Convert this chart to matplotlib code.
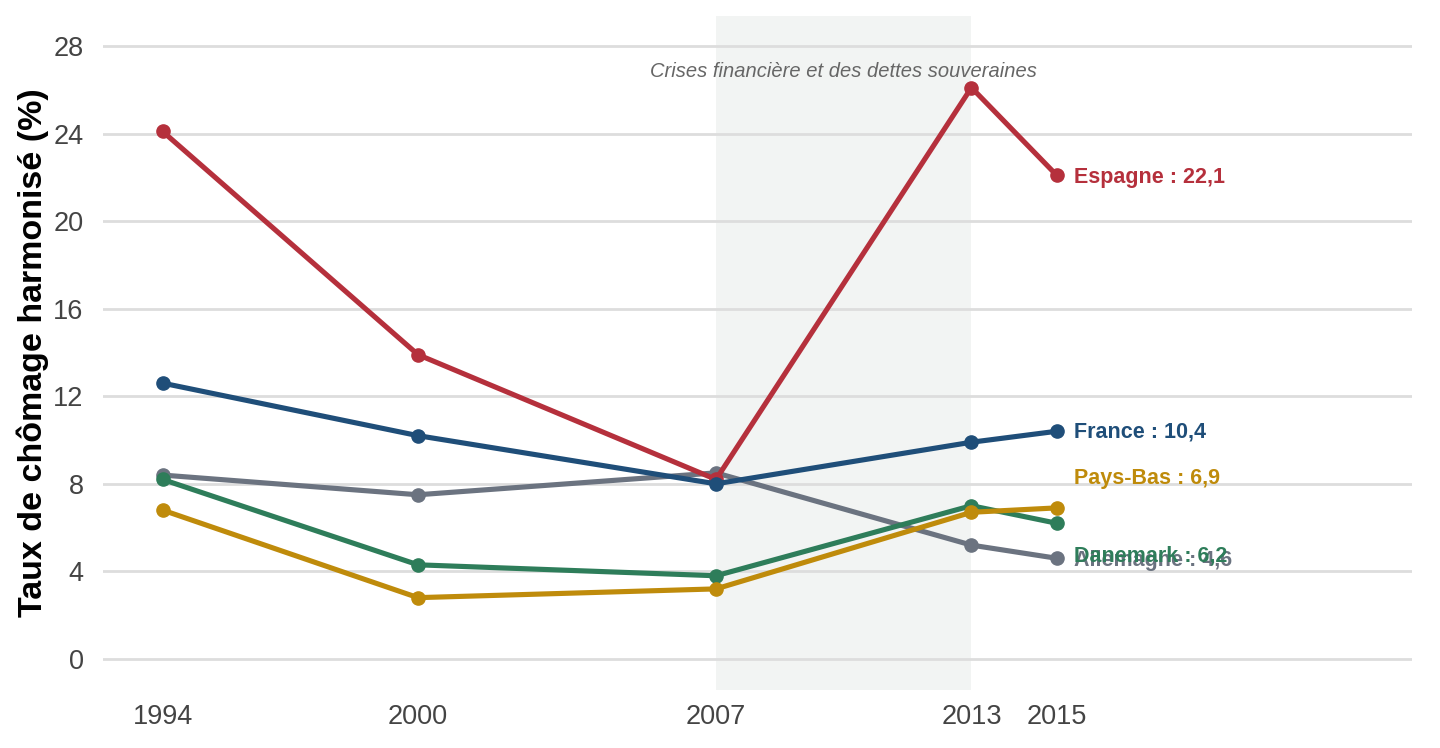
import matplotlib
matplotlib.use("Agg")
import matplotlib.pyplot as plt

years = [1994, 2000, 2007, 2013, 2015]
countries = ["Allemagne", "Danemark", "Pays-Bas", "Espagne", "France"]
values = {
    "Espagne":   [24.1, 13.9, 8.2, 26.1, 22.1],
    "France":    [12.6, 10.2, 8.0, 9.9, 10.4],
    "Allemagne": [8.4, 7.5, 8.5, 5.2, 4.6],
    "Danemark":  [8.2, 4.3, 3.8, 7.0, 6.2],
    "Pays-Bas":  [6.8, 2.8, 3.2, 6.7, 6.9],
}
colors = {
    "Espagne": "#b5303c",
    "France": "#1f4e79",
    "Allemagne": "#6b7380",
    "Danemark": "#2e7d5a",
    "Pays-Bas": "#bf8b0b",
}
label_y = {"Espagne": 22.0, "France": 10.35, "Pays-Bas": 8.25, "Danemark": 4.7, "Allemagne": 4.5}
yticks = [0, 4, 8, 12, 16, 20, 24, 28]
crisis = (2007, 2013)
crisis_label = "Crises financière et des dettes souveraines"

plt.rcParams['font.family'] = ['Liberation Sans', 'DejaVu Sans']

fig = plt.figure(figsize=(14.4, 7.48), dpi=100)
ax = fig.add_axes([0.0715, 0.0775, 0.9091, 0.9011])
ax.set_xlim(1992.6, 2023.35)
ax.set_ylim(-1.42, 29.37)

ax.axvspan(crisis[0], crisis[1], color="#f2f4f3", zorder=0, lw=0)
for t in yticks:
    ax.axhline(t, color="#dddddd", lw=2, zorder=0.5)

for c in countries:
    ax.plot(years, values[c], color=colors[c], lw=3.7, marker="o", ms=9.5, zorder=3,
            solid_capstyle="round")
    ax.text(years[-1] + 0.42, label_y[c], f"{c} : {str(values[c][-1]).replace('.', ',')}",
            color=colors[c], fontsize=15.5, fontweight="bold", va="center", ha="left", zorder=4)

ax.text(sum(crisis) / 2, 26.85, crisis_label, ha="center", va="center",
        fontsize=14.5, style="italic", color="#666666")

ax.set_yticks(yticks)
ax.set_yticklabels([str(t) for t in yticks])
ax.set_xticks(years)
ax.set_xticklabels([str(y) for y in years])
ax.tick_params(axis="both", length=0, labelsize=19.5, labelcolor="#444444")
ax.tick_params(axis="x", pad=10)
ax.tick_params(axis="y", pad=14)
ax.set_ylabel("Taux de chômage harmonisé (%)", fontsize=24.5, fontweight="bold", color="black", labelpad=3)
for s in ax.spines.values():
    s.set_visible(False)

fig.savefig("out.png", dpi=100)
